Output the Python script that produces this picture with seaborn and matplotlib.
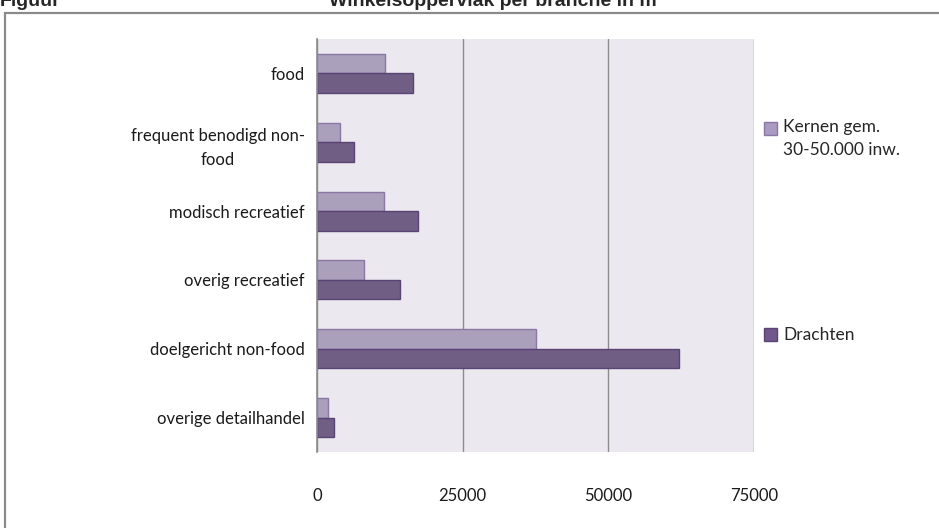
#%% import libraries
import pandas as pd
import seaborn as sns
import matplotlib.pyplot as plt
from matplotlib.patches import Rectangle, Patch
from matplotlib.legend_handler import HandlerPatch
from matplotlib.ticker import FixedLocator

#%% data
categories = ['food', 'frequent benodigd non-\nfood', 'modisch recreatief',
              'overig recreatief', 'doelgericht non-food', 'overige detailhandel']
kernen = [11700, 3900, 11450, 8150, 37650, 1950]
drachten = [16500, 6350, 17400, 14250, 62200, 2900]
series = ['Kernen gem.\n30-50.000 inw.', 'Drachten']
xticks = [0, 25000, 50000, 75000]

df = pd.DataFrame({
    'branche': categories * 2,
    'm2': kernen + drachten,
    'gebied': [series[0]] * len(categories) + [series[1]] * len(categories),
})

light, dark = '#A99BBF', '#6F578C'
light_edge, dark_edge = '#8B77A6', '#594475'

#%% plot
sns.set_style('white')
plt.rcParams['font.family'] = ['Lato', 'DejaVu Sans']

fig = plt.figure(figsize=(9.39, 5.28), dpi=100)
ax = fig.add_axes([0.3376, 0.144, 0.4654, 0.782])
ax.set_facecolor('#EBE9EF')

sns.barplot(data=df, y='branche', x='m2', hue='gebied', orient='h',
            palette=[light, dark], width=0.565, gap=0, legend=False, ax=ax)
for cont, ec in zip(ax.containers, [light_edge, dark_edge]):
    for bar in cont:
        bar.set_edgecolor(ec)
        bar.set_linewidth(1.0)

ax.set_xlim(0, 75000)
ax.set_ylim(len(categories) - 0.5, -0.5)
ax.set_xticks(xticks)
ax.set_xticklabels([str(t) for t in xticks])
ax.set_xlabel('')
ax.set_ylabel('')
ax.grid(axis='x', color='#8C8C8C', linewidth=1)
ax.set_axisbelow(True)

for s in ['top', 'right', 'bottom']:
    ax.spines[s].set_visible(False)
ax.spines['left'].set_color('#8C8C8C')
ax.spines['left'].set_linewidth(1.2)

ax.yaxis.set_minor_locator(FixedLocator([i - 0.5 for i in range(len(categories) + 1)]))
ax.tick_params(axis='y', which='major', length=0, pad=9, labelsize=12, labelcolor='#1a1a1a')
ax.tick_params(axis='y', which='minor', length=6, color='#8C8C8C', width=1.2)
ax.tick_params(axis='x', length=0, pad=26, labelsize=12, labelcolor='#1a1a1a')
for lbl in ax.get_yticklabels():
    lbl.set_multialignment('center')
    lbl.set_linespacing(1.6)


# legend square sits next to the first text line (Excel style)
def raised_square(legend, orig_handle, xdescent, ydescent, width, height, fontsize):
    return Rectangle((-xdescent, -ydescent + 0.62 * fontsize), width, height)


leg_kw = dict(loc='center left', frameon=False, fontsize=12.5, handlelength=0.75,
              handleheight=0.75, handletextpad=0.35)
leg1 = fig.legend(handles=[Patch(facecolor=light, edgecolor=light_edge)], labels=[series[0]],
                  bbox_to_anchor=(0.797, 0.737),
                  handler_map={Patch: HandlerPatch(patch_func=raised_square)}, **leg_kw)
for t in leg1.get_texts():
    t.set_linespacing(1.55)
leg2 = fig.legend(handles=[Patch(facecolor=dark, edgecolor=dark_edge)], labels=[series[1]],
                  bbox_to_anchor=(0.797, 0.365), **leg_kw)

# outer chart border (runs off the right and bottom edge)
top = 1 - 13 / 528
fig.patches.append(Rectangle((5 / 939, -0.1), 1.2, top + 0.1,
                             transform=fig.transFigure, fill=False,
                             edgecolor='#8A8A8A', linewidth=1.6))

# clipped caption at the top
fig.text(0.0, 1 - 6 / 528, 'Figuur', fontsize=14, fontweight='bold',
         family='Liberation Sans', va='baseline', ha='left')
fig.text(0.35, 1 - 6 / 528, 'Winkelsoppervlak per branche in m\u00b2', fontsize=14,
         fontweight='bold', family='Liberation Sans', va='baseline', ha='left')

fig.savefig('out.png', dpi=100)
